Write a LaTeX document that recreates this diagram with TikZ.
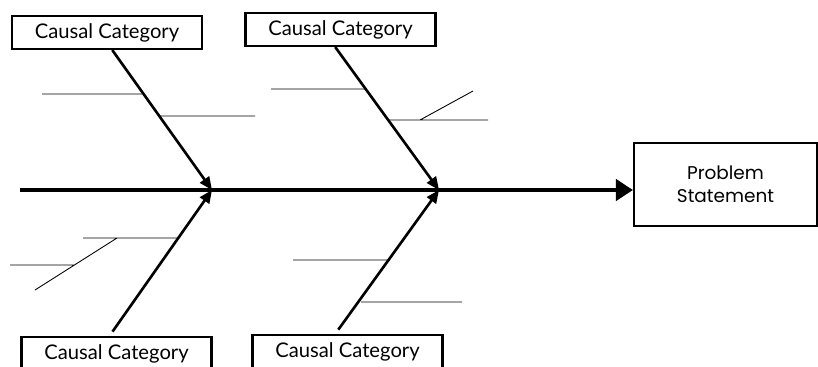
\documentclass[tikz,border=0pt]{standalone}
\usepackage{fontspec}
\setmainfont{Lato}
\newfontfamily\probfont{Poppins}
\usetikzlibrary{arrows.meta}
\begin{document}
\begin{tikzpicture}[x=0.02cm,y=-0.02cm]
        \tikzstyle{every node}=[draw,line width=1.2pt,inner sep=0pt];
        \tikzstyle{catbox}=[minimum width=3.8cm,minimum height=0.66cm,font=\fontsize{11.5}{13}\selectfont];
        \tikzstyle{bone}=[line width=1.5pt,-{Triangle[length=0.26cm,width=0.22cm]}];
        \tikzstyle{twig}=[line width=0.5pt];
        \useasboundingbox (0,0) rectangle (818,366);
        \clip (0,0) rectangle (818,366);
        %\node (name) at (x,y) [catbox] {text};
        \node (c1) at (107,32.5) [catbox] {Causal Category};
        \node (c2) at (340.5,29.5) [catbox] {Causal Category};
        \node (c3) at (116.5,353.5) [catbox] {Causal Category};
        \node (c4) at (347.5,351.5) [catbox] {Causal Category};
        \node (p) at (725.5,184.5) [minimum width=3.66cm,minimum height=1.66cm,align=center,font=\probfont\fontsize{10.5}{13}\selectfont] {Problem\\Statement};
        \coordinate (s) at (20,190);
        \coordinate (j1) at (212,190);
        \coordinate (j2) at (439,190);
        \draw[bone] ([xshift=3]c1.south) -- (j1);
        \draw[bone] ([xshift=-3]c2.south) -- (j2);
        \draw[bone,shorten <=3pt] ([xshift=-4]c3.north) -- (j1);
        \draw[bone,shorten <=3pt] ([xshift=-7]c4.north) -- (j2);
        \draw[line width=2.8pt,-{Triangle[length=0.34cm,width=0.42cm]}] (s) -- (s -| p.west);
        %twigs
        \draw[twig] (42,94) -- (142,94)
        (158,116) -- (255,116)
        (271,89) -- (366,89)
        (389,120) -- (488,120)
        (420,120) -- (473,91)
        (83,238) -- (179,238)
        (10,265) -- (74,265)
        (35,290) -- (117,238)
        (293,260) -- (390,260)
        (361,302) -- (462,302);
    \end{tikzpicture}
\end{document}
